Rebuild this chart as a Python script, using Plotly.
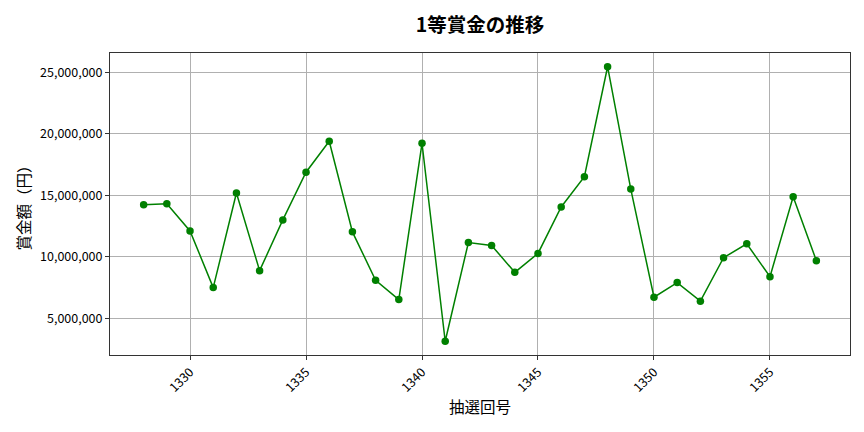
import plotly.graph_objects as go

# 抽選回号と1等賞金
draw_numbers = list(range(1328, 1358))
prize_amounts = [
    14230000, 14310000, 12100000, 7490000, 15180000, 8870000, 12990000, 16870000,
    19380000, 12020000, 8090000, 6520000, 19220000, 3130000, 11160000, 10920000,
    8730000, 10270000, 14040000, 16500000, 25440000, 15500000, 6710000, 7900000,
    6390000, 9920000, 11050000, 8380000, 14880000, 9680000,
]
y_ticks = [5000000, 10000000, 15000000, 20000000, 25000000]
x_ticks = [1330, 1335, 1340, 1345, 1350, 1355]

FONT = "Noto Sans CJK JP"

fig = go.Figure()
fig.add_trace(go.Scatter(
    x=draw_numbers,
    y=prize_amounts,
    mode="lines+markers",
    line=dict(color="green", width=1.5),
    marker=dict(color="green", size=7.5),
    showlegend=False,
))

span_x = draw_numbers[-1] - draw_numbers[0]
span_y = max(prize_amounts) - min(prize_amounts)

fig.update_layout(
    width=864, height=432,
    margin=dict(l=102, r=22, t=45, b=85),
    paper_bgcolor="white", plot_bgcolor="white",
    font=dict(family=FONT, color="black", size=12.5),
    title=dict(text="<b>1等賞金の推移</b>", x=0.5, xref="paper", xanchor="center",
               y=0.96, yanchor="middle",
               font=dict(family=FONT, size=19.5, color="black")),
)
fig.update_xaxes(
    range=[draw_numbers[0] - 0.05 * span_x, draw_numbers[-1] + 0.05 * span_x],
    tickvals=x_ticks, tickangle=-45,
    showgrid=True, gridcolor="#b0b0b0", gridwidth=0.8,
    showline=True, linecolor="#333", linewidth=1, mirror=True,
    ticks="outside", ticklen=4, tickcolor="#333",
    zeroline=False,
    title=dict(text="抽選回号", font=dict(family=FONT, size=15.5), standoff=7),
)
fig.update_yaxes(
    range=[min(prize_amounts) - 0.05 * span_y, max(prize_amounts) + 0.05 * span_y],
    tickvals=y_ticks, tickformat=",d",
    showgrid=True, gridcolor="#b0b0b0", gridwidth=0.8,
    showline=True, linecolor="#333", linewidth=1, mirror=True,
    ticks="outside", ticklen=4, tickcolor="#333",
    zeroline=False,
    title=dict(text="賞金額（円）", font=dict(family=FONT, size=15.5), standoff=5),
)

fig.write_html("out.html")
